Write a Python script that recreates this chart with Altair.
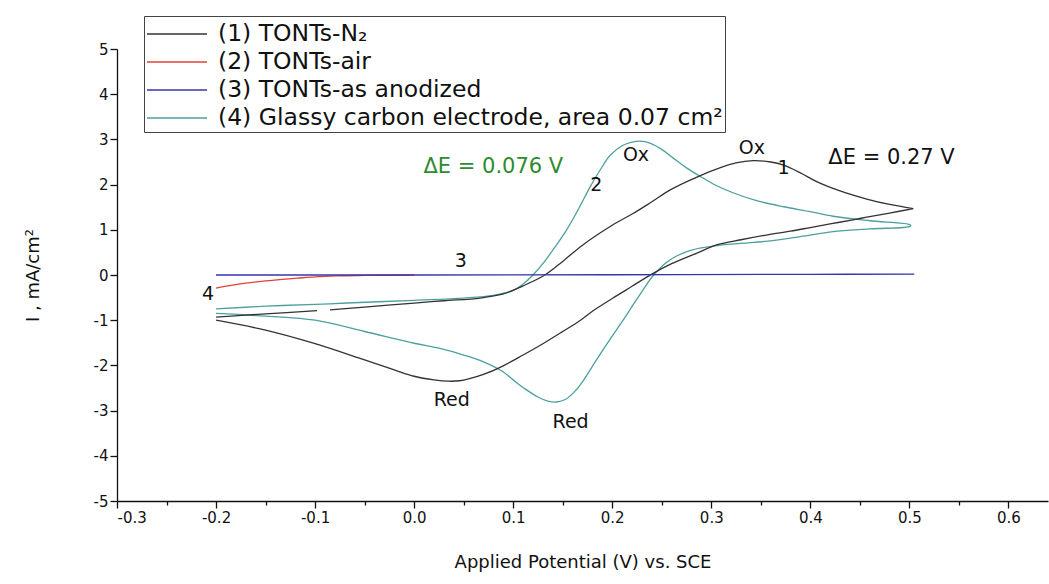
import altair as alt
import pandas as pd

FONT = "DejaVu Sans"

SERIES = [
    "(1) TONTs-N\u2082",
    "(2) TONTs-air",
    "(3) TONTs-as anodized",
    "(4) Glassy carbon electrode, area 0.07 cm\u00b2",
]
COLORS = ["#333333", "#e0403a", "#3636aa", "#4e9f9f"]

# (4) glassy carbon electrode - anodic scan
gc_ox_v = [-0.2, -0.15, -0.1, -0.068, 0.0, 0.05, 0.08, 0.1, 0.11, 0.12, 0.13, 0.14, 0.154,
           0.165, 0.178, 0.19, 0.198, 0.21, 0.22, 0.228, 0.238, 0.25, 0.262, 0.275, 0.289,
           0.305, 0.322, 0.345, 0.373, 0.40, 0.423, 0.46, 0.501]
gc_ox_i = [-0.75, -0.69, -0.65, -0.62, -0.56, -0.51, -0.45, -0.34, -0.2, 0.0, 0.25, 0.55, 1.0,
           1.42, 1.96, 2.4, 2.65, 2.86, 2.94, 2.96, 2.92, 2.78, 2.58, 2.37, 2.18,
           1.98, 1.82, 1.65, 1.51, 1.40, 1.30, 1.20, 1.11]
# (4) cathodic scan
gc_red_v = [0.501, 0.46, 0.423, 0.39, 0.357, 0.33, 0.306, 0.28, 0.265, 0.255, 0.247, 0.24,
            0.232, 0.222, 0.211, 0.201, 0.19, 0.18, 0.171, 0.162, 0.153, 0.144, 0.135, 0.125,
            0.112, 0.1, 0.089, 0.07, 0.05, 0.025, 0.0, -0.05, -0.1, -0.15, -0.2]
gc_red_i = [1.08, 1.02, 0.96, 0.85, 0.75, 0.70, 0.65, 0.55, 0.42, 0.28, 0.12, -0.05,
            -0.3, -0.63, -1.0, -1.32, -1.68, -2.02, -2.33, -2.58, -2.75, -2.81, -2.79, -2.7,
            -2.52, -2.32, -2.13, -1.92, -1.77, -1.62, -1.51, -1.25, -1.0, -0.91, -0.85]

# (1) TONTs-N2 - anodic scan (first short piece, then after the small gap)
n2_ox1_v = [-0.2, -0.15, -0.098]
n2_ox1_i = [-0.93, -0.86, -0.79]
n2_ox2_v = [-0.085, -0.05, 0.0, 0.03, 0.067, 0.09, 0.11, 0.132, 0.15, 0.17, 0.2, 0.221,
            0.24, 0.26, 0.289, 0.31, 0.325, 0.342, 0.36, 0.373, 0.39, 0.407, 0.43, 0.457,
            0.48, 0.504]
n2_ox2_i = [-0.77, -0.71, -0.62, -0.57, -0.51, -0.42, -0.24, 0.0, 0.3, 0.66, 1.1, 1.36,
            1.62, 1.9, 2.2, 2.38, 2.48, 2.53, 2.5, 2.43, 2.26, 2.06, 1.86, 1.68,
            1.56, 1.47]
# (1) cathodic scan
n2_red_v = [0.504, 0.48, 0.457, 0.443, 0.42, 0.40, 0.38, 0.357, 0.33, 0.306, 0.285, 0.26,
            0.24, 0.22, 0.2, 0.18, 0.168, 0.15, 0.13, 0.11, 0.089, 0.07, 0.055, 0.046,
            0.035, 0.02, 0.0, -0.02, -0.05, -0.1, -0.15, -0.2]
n2_red_i = [1.47, 1.37, 1.28, 1.22, 1.13, 1.05, 0.97, 0.89, 0.78, 0.67, 0.48, 0.25,
            0.02, -0.25, -0.52, -0.8, -1.0, -1.25, -1.52, -1.77, -2.02, -2.2, -2.3, -2.34,
            -2.35, -2.32, -2.24, -2.1, -1.88, -1.52, -1.22, -1.0]

# (2) TONTs-air
air_v = [-0.2, -0.185, -0.17, -0.15, -0.13, -0.118, -0.1, -0.078, -0.05, 0.0]
air_i = [-0.29, -0.23, -0.18, -0.13, -0.09, -0.07, -0.04, -0.02, -0.01, 0.0]

# (3) TONTs-as anodized
anod_v = [-0.2, 0.0, 0.2, 0.4, 0.505]
anod_i = [0.0, 0.0, 0.005, 0.015, 0.02]

segments = [
    (SERIES[3], "gc", gc_ox_v + gc_red_v, gc_ox_i + gc_red_i),
    (SERIES[0], "n2a", n2_ox1_v, n2_ox1_i),
    (SERIES[0], "n2b", n2_ox2_v + n2_red_v, n2_ox2_i + n2_red_i),
    (SERIES[1], "air", air_v, air_i),
    (SERIES[2], "anod", anod_v, anod_i),
]
rows = []
for name, seg, vs, cs in segments:
    for k, (v, c) in enumerate(zip(vs, cs)):
        rows.append({"series": name, "seg": seg, "idx": k, "v": v, "i": c})
df = pd.DataFrame(rows)

# annotations
ann_text = ["\u0394E = 0.076 V", "2", "Ox", "Ox", "1", "\u0394E = 0.27 V", "3", "4", "Red", "Red"]
ann_v = [0.08, 0.184, 0.224, 0.341, 0.373, 0.482, 0.047, -0.208, 0.038, 0.158]
ann_i = [2.39, 1.99, 2.65, 2.81, 2.37, 2.59, 0.31, -0.42, -2.77, -3.25]
ann_col = ["#2e8b2e", "#111111", "#111111", "#111111", "#111111", "#111111",
           "#111111", "#111111", "#111111", "#111111"]
ann_fs = [21, 19, 19, 19, 19, 21, 19, 19, 19, 19]
ann = pd.DataFrame({"t": ann_text, "v": ann_v, "i": ann_i, "c": ann_col, "fs": ann_fs})

x_vals = [round(-0.3 + 0.05 * k, 2) for k in range(19)]
y_vals = [round(-5 + 0.5 * k, 1) for k in range(21)]

x_scale = alt.Scale(domain=[-0.3, 0.64], nice=False, zero=False)
y_scale = alt.Scale(domain=[-5, 5], nice=False, zero=False)

x_axis = alt.Axis(
    values=x_vals,
    labelExpr="abs(datum.value*10 - round(datum.value*10)) < 0.001 ? ((datum.value < -0.001 ? '-' : '') + format(abs(datum.value), '.1f')) : ''",
    tickSize={"condition": {"test": "abs(datum.value*10 - round(datum.value*10)) < 0.001", "value": 7}, "value": 4},
    grid=False,
    title="Applied Potential (V) vs. SCE",
    titleY=61,
    titleBaseline="middle",
)
y_axis = alt.Axis(
    values=y_vals,
    labelExpr="abs(datum.value - round(datum.value)) < 0.001 ? ((datum.value < -0.001 ? '-' : '') + format(abs(datum.value), 'd')) : ''",
    tickSize={"condition": {"test": "abs(datum.value - round(datum.value)) < 0.001", "value": 7}, "value": 4},
    grid=False,
    title="I , mA/cm\u00b2",
    titleX=-84,
    titleY=226,
    titleAngle=270,
    titleAlign="center",
    titleBaseline="middle",
)

lines = alt.Chart(df).mark_line(strokeWidth=1.3, interpolate="catmull-rom").encode(
    x=alt.X("v:Q", scale=x_scale, axis=x_axis),
    y=alt.Y("i:Q", scale=y_scale, axis=y_axis),
    color=alt.Color(
        "series:N",
        scale=alt.Scale(domain=SERIES, range=COLORS),
        legend=alt.Legend(
            title=None,
            orient="none",
            legendX=27,
            legendY=-33,
            symbolType="M -1 0 L 3 0",
            symbolSize=900,
            symbolStrokeWidth=1.4,
            labelOffset=40,
            labelFontSize=23.5,
            labelFont=FONT,
            labelLimit=800,
            labelColor="#111111",
            rowPadding=0,
            padding=2,
            strokeColor="#444444",
            fillColor="white",
        ),
    ),
    detail="seg:N",
    order="idx:Q",
)

texts = alt.Chart(ann).mark_text(font=FONT, align="center", baseline="middle").encode(
    x=alt.X("v:Q", scale=x_scale),
    y=alt.Y("i:Q", scale=y_scale),
    text="t:N",
    color=alt.Color("c:N", scale=None),
    size=alt.Size("fs:Q", scale=None),
)

chart = alt.layer(lines, texts).properties(
    width=931,
    height=452,
    autosize=alt.AutoSizeParams(type="none"),
    padding={"left": 117, "top": 49, "right": 1, "bottom": 83},
).configure_view(stroke=None).configure_axis(
    domainColor="#111111",
    tickColor="#111111",
    labelColor="#111111",
    titleColor="#111111",
    labelFont=FONT,
    titleFont=FONT,
    labelFontSize=15,
    titleFontSize=18,
    titleFontWeight="normal",
    domainWidth=1.3,
    tickWidth=1.3,
)

chart.save("out.html", embed_options={"renderer": "svg", "actions": False})
